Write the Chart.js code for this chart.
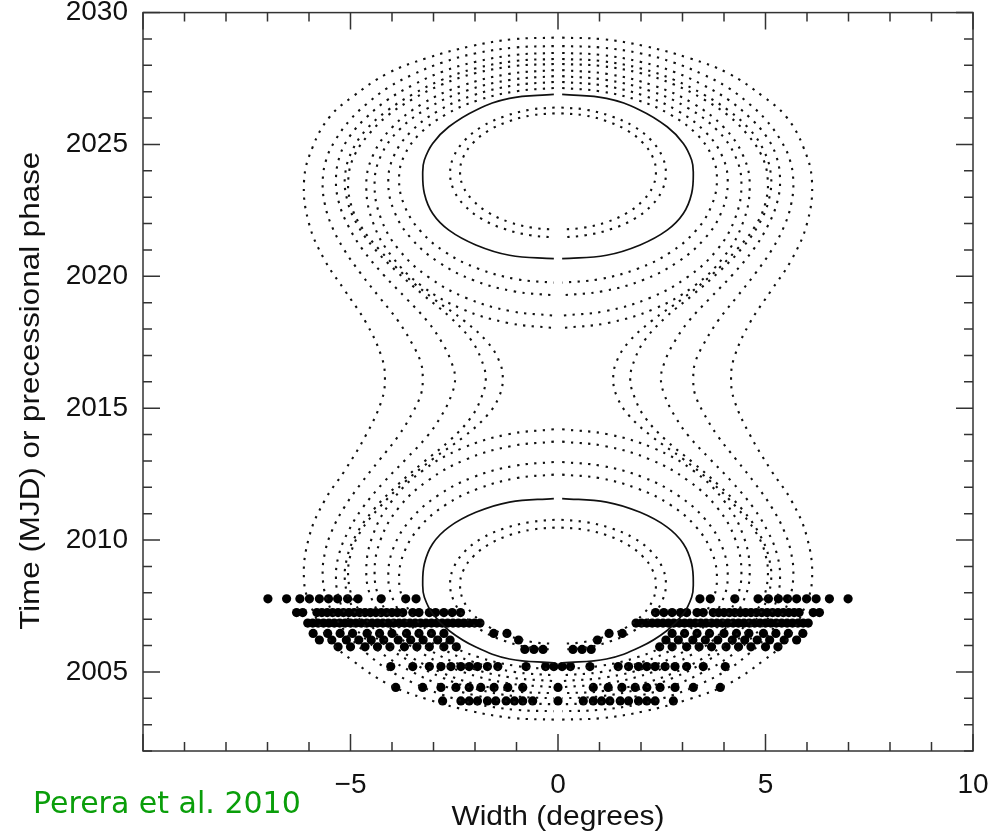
<!DOCTYPE html>
<html><head><meta charset="utf-8">
<script src="https://cdn.jsdelivr.net/npm/chart.js@4.4.1/dist/chart.umd.min.js"></script>
<style>html,body{margin:0;padding:0;background:#fff;}#wrap{width:1007px;height:835px;position:relative;}</style>
</head><body><div id="wrap"><canvas id="c" width="1007" height="835"></canvas></div>
<script>
// ---------- axis text ----------
const xTickValues = [-5, 0, 5, 10];
const xTickLabels = ['\u22125', '0', '5', '10'];
const yTickValues = [2005, 2010, 2015, 2020, 2025, 2030];
const yTickLabels = ['2005', '2010', '2015', '2020', '2025', '2030'];
const xTitle = 'Width (degrees)';
const yTitle = 'Time (MJD) or precessional phase';
const creditText = 'Perera et al. 2010';

// ---------- model curves: right half [width, year], top -> bottom (left half is the mirror image) ----------
const upperE1 = [[0.08,2026.18],[0.61,2026.11],[1.18,2025.88],[1.67,2025.53],[2.04,2025.07],[2.28,2024.53],[2.36,2023.95],[2.28,2023.39],[2.04,2022.86],[1.67,2022.41],[1.18,2022.06],[0.61,2021.84],[0.08,2021.77]];
const upperE2 = [[0.08,2026.40],[0.67,2026.32],[1.30,2026.06],[1.84,2025.67],[2.25,2025.15],[2.51,2024.55],[2.60,2023.90],[2.51,2023.27],[2.25,2022.68],[1.84,2022.18],[1.30,2021.80],[0.67,2021.56],[0.08,2021.47]];
const upperSolid = [[0.1,2026.90],[1.17,2026.75],[1.98,2026.30],[2.63,2025.67],[3.02,2025.04],[3.22,2024.41],[3.26,2023.96],[3.22,2023.14],[3.02,2022.38],[2.63,2021.75],[1.98,2021.19],[1.17,2020.80],[0.1,2020.67]];
const upperO1 = [[0.1,2027.14],[0.99,2027.02],[1.92,2026.68],[2.71,2026.13],[3.32,2025.42],[3.70,2024.59],[3.83,2023.70],[3.70,2022.68],[3.32,2021.73],[2.71,2020.91],[1.92,2020.29],[0.99,2019.89],[0.1,2019.76]];
const upperO2 = [[0.1,2027.37],[1.06,2027.24],[2.05,2026.86],[2.89,2026.27],[3.54,2025.49],[3.95,2024.58],[4.09,2023.60],[3.95,2022.48],[3.54,2021.44],[2.89,2020.55],[2.05,2019.86],[1.06,2019.43],[0.1,2019.28]];
const upperO3 = [[0.1,2027.59],[1.14,2027.45],[2.21,2027.04],[3.12,2026.39],[3.83,2025.55],[4.27,2024.56],[4.42,2023.50],[4.27,2022.21],[3.83,2021.00],[3.12,2019.97],[2.21,2019.18],[1.14,2018.68],[0.1,2018.51]];
const upperO4 = [[0.1,2027.82],[1.20,2027.67],[2.31,2027.23],[3.27,2026.54],[4.00,2025.64],[4.46,2024.58],[4.62,2023.45],[4.46,2022.05],[4.00,2020.75],[3.27,2019.62],[2.31,2018.76],[1.20,2018.23],[0.1,2018.04]];

const lowerE1 = [[0.08,2010.47],[0.61,2010.40],[1.18,2010.18],[1.67,2009.83],[2.04,2009.38],[2.28,2008.85],[2.36,2008.29],[2.28,2007.71],[2.04,2007.17],[1.67,2006.71],[1.18,2006.36],[0.61,2006.13],[0.08,2006.06]];
const lowerE2 = [[0.08,2010.77],[0.67,2010.68],[1.30,2010.44],[1.84,2010.06],[2.25,2009.56],[2.51,2008.97],[2.60,2008.34],[2.51,2007.69],[2.25,2007.09],[1.84,2006.57],[1.30,2006.18],[0.67,2005.92],[0.08,2005.84]];
const lowerSolid = [[0.1,2011.57],[1.17,2011.44],[1.98,2011.05],[2.63,2010.49],[3.02,2009.86],[3.22,2009.10],[3.26,2008.28],[3.22,2007.83],[3.02,2007.20],[2.63,2006.57],[1.98,2005.94],[1.17,2005.49],[0.1,2005.34]];
const lowerO1 = [[0.1,2012.48],[0.99,2012.35],[1.92,2011.95],[2.71,2011.33],[3.32,2010.51],[3.70,2009.56],[3.83,2008.54],[3.70,2007.65],[3.32,2006.82],[2.71,2006.11],[1.92,2005.56],[0.99,2005.22],[0.1,2005.10]];
const lowerO2 = [[0.1,2012.96],[1.06,2012.81],[2.05,2012.38],[2.89,2011.69],[3.54,2010.80],[3.95,2009.76],[4.09,2008.64],[3.95,2007.66],[3.54,2006.75],[2.89,2005.97],[2.05,2005.38],[1.06,2005.00],[0.1,2004.87]];
const lowerO3 = [[0.1,2013.73],[1.14,2013.56],[2.21,2013.06],[3.12,2012.27],[3.83,2011.24],[4.27,2010.03],[4.42,2008.74],[4.27,2007.68],[3.83,2006.69],[3.12,2005.85],[2.21,2005.20],[1.14,2004.79],[0.1,2004.65]];
const lowerO4 = [[0.1,2014.20],[1.20,2014.01],[2.31,2013.48],[3.27,2012.62],[4.00,2011.49],[4.46,2010.19],[4.62,2008.79],[4.46,2007.66],[4.00,2006.60],[3.27,2005.70],[2.31,2005.01],[1.20,2004.57],[0.1,2004.42]];

const hourglass1 = [[0.1,2028.05],[1.0,2027.98],[2.0,2027.70],[2.8,2027.27],[3.5,2026.72],[4.1,2026.10],[4.55,2025.40],[4.9,2024.60],[5.05,2023.75],[5.0,2022.80],[4.75,2021.90],[4.3,2021.00],[3.7,2020.05],[3.0,2019.15],[2.25,2018.30],[1.7,2017.50],[1.42,2016.80],[1.33,2016.12],
  [1.42,2015.44],[1.7,2014.74],[2.25,2013.94],[3.0,2013.09],[3.7,2012.19],[4.3,2011.24],[4.75,2010.34],[5.0,2009.44],[5.05,2008.49],[4.9,2007.64],[4.55,2006.84],[4.1,2006.14],[3.5,2005.52],[2.8,2004.97],[2.0,2004.54],[1.0,2004.26],[0.1,2004.19]];
const hourglass2 = [[0.1,2028.24],[1.0,2028.17],[2.0,2027.88],[2.8,2027.45],[3.5,2026.90],[4.1,2026.30],[4.6,2025.60],[4.95,2024.80],[5.13,2023.85],[5.08,2022.90],[4.85,2022.00],[4.45,2021.10],[3.9,2020.20],[3.25,2019.30],[2.6,2018.45],[2.1,2017.60],[1.85,2016.85],[1.74,2016.12],
  [1.85,2015.39],[2.1,2014.64],[2.6,2013.79],[3.25,2012.94],[3.9,2012.04],[4.45,2011.14],[4.85,2010.24],[5.08,2009.34],[5.13,2008.39],[4.95,2007.44],[4.6,2006.64],[4.1,2005.94],[3.5,2005.34],[2.8,2004.79],[2.0,2004.36],[1.0,2004.07],[0.1,2004.00]];
const hourglass3 = [[0.1,2028.47],[1.0,2028.40],[2.0,2028.13],[2.8,2027.75],[3.5,2027.25],[4.1,2026.70],[4.6,2026.05],[5.0,2025.35],[5.25,2024.60],[5.35,2023.70],[5.28,2022.80],[5.05,2021.90],[4.7,2021.00],[4.2,2020.05],[3.65,2019.15],[3.15,2018.30],[2.8,2017.50],[2.57,2016.75],[2.48,2016.12],
  [2.57,2015.49],[2.8,2014.74],[3.15,2013.94],[3.65,2013.09],[4.2,2012.19],[4.7,2011.24],[5.05,2010.34],[5.28,2009.44],[5.35,2008.54],[5.25,2007.64],[5.0,2006.89],[4.6,2006.19],[4.1,2005.54],[3.5,2004.99],[2.8,2004.49],[2.0,2004.11],[1.0,2003.84],[0.1,2003.77]];
const hourglass4 = [[0.1,2028.73],[1.0,2028.68],[2.0,2028.45],[2.8,2028.10],[3.5,2027.65],[4.1,2027.15],[4.6,2026.55],[5.0,2025.95],[5.35,2025.20],[5.58,2024.45],[5.67,2023.60],[5.62,2022.75],[5.45,2021.90],[5.15,2021.00],[4.75,2020.10],[4.3,2019.20],[3.85,2018.30],[3.5,2017.40],[3.3,2016.70],[3.26,2016.12],
  [3.3,2015.54],[3.5,2014.84],[3.85,2013.94],[4.3,2013.04],[4.75,2012.14],[5.15,2011.24],[5.45,2010.34],[5.62,2009.49],[5.67,2008.64],[5.58,2007.79],[5.35,2007.04],[5.0,2006.29],[4.6,2005.69],[4.1,2005.09],[3.5,2004.59],[2.8,2004.14],[2.0,2003.79],[1.0,2003.56],[0.1,2003.51]];
const hourglass5 = [[0.1,2029.05],[1.08,2028.99],[2.08,2028.73],[3.17,2028.27],[4.10,2027.70],[4.95,2026.81],[5.50,2026.05],[5.91,2024.91],[6.12,2023.60],[6.00,2022.00],[5.62,2020.61],[5.14,2019.47],[4.61,2018.20],[4.25,2016.94],[4.17,2016.12],
  [4.25,2015.29],[4.61,2014.03],[5.14,2012.63],[5.62,2011.51],[6.00,2010.10],[6.12,2008.46],[5.91,2007.33],[5.50,2006.19],[4.95,2005.43],[4.10,2004.54],[3.17,2003.97],[2.08,2003.51],[1.08,2003.25],[0.1,2003.19]];

// ---------- observed widths (plotted at +/- width) ----------
const obsTimes = [2007.77, 2007.25, 2006.85, 2006.46, 2006.21, 2005.95, 2005.85, 2005.20, 2004.41, 2003.90];
const obsWidths = [
  [3.42,3.67,4.26,4.82,5.07,5.31,5.53,5.75,5.99,6.22,6.54,6.99],
  [2.35,2.55,2.75,2.95,3.1,3.35,3.5,3.74,3.87,4.0,4.13,4.26,4.39,4.52,4.65,4.78,4.91,5.04,5.17,5.3,5.43,5.56,5.69,5.81,6.15,6.3],
  [1.88,2.01,2.14,2.27,2.4,2.53,2.66,2.79,2.92,3.05,3.18,3.31,3.44,3.57,3.7,3.83,3.96,4.09,4.22,4.35,4.48,4.61,4.74,4.87,5.0,5.13,5.26,5.39,5.52,5.65,5.78,5.91,6.03],
  [1.23,1.55,2.75,3.05,3.35,3.65,4.0,4.3,4.6,4.95,5.25,5.55,5.9],
  [0.95,2.6,2.9,3.25,3.55,3.85,4.2,4.5,4.8,5.1,5.45,5.75],
  [2.45,2.75,3.1,3.4,3.7,4.05,4.35,4.65,5.0,5.3],
  [0.36,0.58,0.8],
  [0.1,0.3,0.77,1.45,1.70,1.94,2.14,2.34,2.58,2.82,3.10,3.50,4.03],
  [0.0,0.85,1.21,1.54,1.86,2.14,2.46,2.82,3.26,3.91],
  [0.0,0.61,0.85,1.05,1.25,1.50,1.70,1.94,2.14,2.34,2.78]
];

// ---------- build datasets ----------
const curveList = [
  [upperE1,false],[upperE2,false],[upperSolid,true],[upperO1,false],[upperO2,false],[upperO3,false],[upperO4,false],
  [lowerE1,false],[lowerE2,false],[lowerSolid,true],[lowerO1,false],[lowerO2,false],[lowerO3,false],[lowerO4,false],
  [hourglass1,false],[hourglass2,false],[hourglass3,false],[hourglass4,false],[hourglass5,false]
];
const datasets = [];
curveList.forEach(([pts, solid]) => {
  [1, -1].forEach(sign => {
    datasets.push({
      data: pts.map(p => ({x: sign * p[0], y: p[1]})),
      showLine: true, pointRadius: 0, fill: false, tension: 0.4,
      borderColor: '#111', borderWidth: solid ? 1.7 : 2.1,
      borderDash: solid ? [] : [2.3, 6.4]
    });
  });
});
const obsPoints = [];
obsTimes.forEach((t, i) => {
  obsWidths[i].forEach(w => {
    obsPoints.push({x: -w, y: t});
    if (w !== 0) obsPoints.push({x: w, y: t});
  });
});
datasets.push({data: obsPoints, showLine: false, pointRadius: 4.6, pointBackgroundColor: '#000', pointBorderWidth: 0});

// ---------- slightly wide axis-title lettering ----------
const canvas = document.getElementById('c');
const ctx = canvas.getContext('2d');
const stretchOf = new Map([[xTitle, {s: 1.07, dx: 0}], [yTitle, {s: 1.12, dx: -9}]]);
let stretchOn = false;
const origFill = ctx.fillText;
ctx.fillText = function (text, x, y, mw) {
  const st = stretchOf.get(text);
  if (stretchOn && st) {
    this.save(); this.translate(x + st.dx, y); this.scale(st.s, 1);
    origFill.call(this, text, 0, 0);
    this.restore();
  } else {
    origFill.call(this, text, x, y, mw);
  }
};

const framePlugin = {
  id: 'frame',
  beforeDraw() { stretchOn = true; },
  beforeDatasetsDraw() { stretchOn = false; },
  afterDraw(chart) {
    const {ctx, chartArea: a, scales: {x, y}} = chart;
    ctx.save();
    ctx.strokeStyle = '#333'; ctx.lineWidth = 1.5;
    ctx.strokeRect(a.left, a.top, a.right - a.left, a.bottom - a.top);
    ctx.beginPath();
    for (let v = -10; v <= 10; v++) {
      const px = x.getPixelForValue(v);
      const len = v % 5 === 0 ? 17 : 9;
      ctx.moveTo(px, a.bottom); ctx.lineTo(px, a.bottom - len);
      ctx.moveTo(px, a.top); ctx.lineTo(px, a.top + len);
    }
    for (let v = 2002; v <= 2030; v++) {
      const py = y.getPixelForValue(v);
      const len = v % 5 === 0 ? 17 : 9;
      ctx.moveTo(a.left, py); ctx.lineTo(a.left + len, py);
      ctx.moveTo(a.right, py); ctx.lineTo(a.right - len, py);
    }
    ctx.stroke();
    ctx.fillStyle = '#0a9e0a';
    ctx.font = '30px "DejaVu Sans"';
    ctx.textAlign = 'left'; ctx.textBaseline = 'alphabetic';
    origFill.call(ctx, creditText, 33, 813);
    ctx.restore();
  }
};

const axisFont = {family: '"Liberation Sans", Arial, sans-serif', size: 28};
new Chart(ctx, {
  type: 'scatter',
  data: {datasets},
  options: {
    responsive: false, animation: false, devicePixelRatio: 1,
    layout: {padding: {top: 12.6, right: 34, left: 0, bottom: 0}},
    plugins: {legend: {display: false}, tooltip: {enabled: false}},
    scales: {
      x: {
        type: 'linear', min: -10, max: 10, position: 'bottom',
        afterBuildTicks: s => { s.ticks = xTickValues.map(v => ({value: v})); },
        afterFit: s => { s.height = 84; s.paddingLeft = 0; s.paddingRight = 0; },
        ticks: {autoSkip: false, maxRotation: 0, padding: 17, color: '#111', font: axisFont,
          callback: v => { const i = xTickValues.indexOf(v); return i >= 0 ? xTickLabels[i] : ''; }},
        grid: {display: false, drawTicks: false}, border: {display: false},
        title: {display: true, text: xTitle, color: '#111', font: axisFont, padding: {top: 0, bottom: 1}}
      },
      y: {
        type: 'linear', min: 2002, max: 2030,
        afterBuildTicks: s => { s.ticks = yTickValues.map(v => ({value: v})); },
        afterFit: s => { s.width = 143; s.paddingTop = 0; s.paddingBottom = 0; },
        ticks: {autoSkip: false, padding: 15, color: '#111', font: axisFont,
          callback: v => { const i = yTickValues.indexOf(v); return i >= 0 ? yTickLabels[i] : ''; }},
        grid: {display: false, drawTicks: false}, border: {display: false},
        title: {display: true, text: yTitle, color: '#111', font: axisFont, padding: {top: 14, bottom: 0}}
      }
    }
  },
  plugins: [framePlugin]
});
</script></body></html>
